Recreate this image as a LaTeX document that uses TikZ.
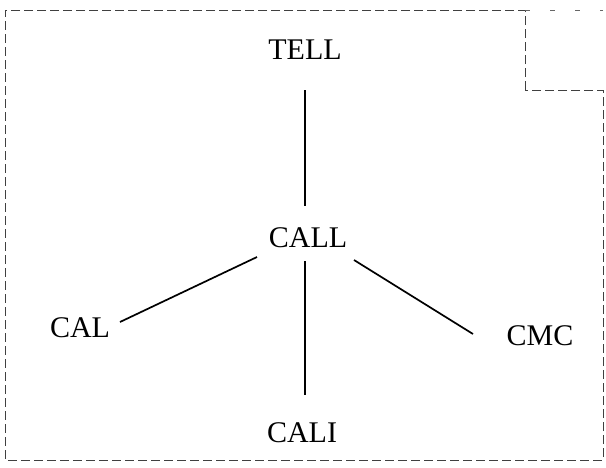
\documentclass[tikz,border=0pt]{standalone}
\usepackage{fontspec}
\setmainfont{Liberation Serif}
\usetikzlibrary{calc}

\tikzset{
  term/.style={inner sep=0pt, font=\fontsize{30}{33}\selectfont},
  link/.style={line width=1.7pt, draw=black},
  frame/.style={draw=black!75, line width=0.8pt, dash pattern=on 9pt off 4pt},
  faint/.style={draw=black!60, line width=0.8pt, dash pattern=on 5pt off 20pt}
}

\begin{document}
\begin{tikzpicture}[x=1pt, y=-1pt]
  \useasboundingbox (0,0) rectangle (606,467);

  % dashed outline with the cut-out corner at the top right
  \draw[frame] (525,90) -- (525,10) -- (5,10) -- (5,460) -- (603,460) -- (603,90) -- cycle;
  \draw[faint] (525,10) -- (603,10);

  % terms
  \node[term] (TELL) at (305,50)  {TELL};
  \node[term] (CALL) at (308,238) {CALL};
  \node[term] (CAL)  at (80,328)  {CAL};
  \node[term] (CMC)  at (540,336) {CMC};
  \node[term] (CALI) at (302,433) {CALI};

  % connectors
  \draw[link] ($(TELL.center)+(0,40)$) -- ($(CALL.center)+(-3,-32)$);
  \draw[link] ($(CALL.center)+(-3,23)$) -- ($(CALI.center)+(3,-38)$);
  \draw[link] ($(CALL.center)+(-51,19)$) -- ($(CAL.center)+(40,-6)$);
  \draw[link] ($(CALL.center)+(46,22)$)  -- ($(CMC.center)+(-67,-2)$);
\end{tikzpicture}
\end{document}
